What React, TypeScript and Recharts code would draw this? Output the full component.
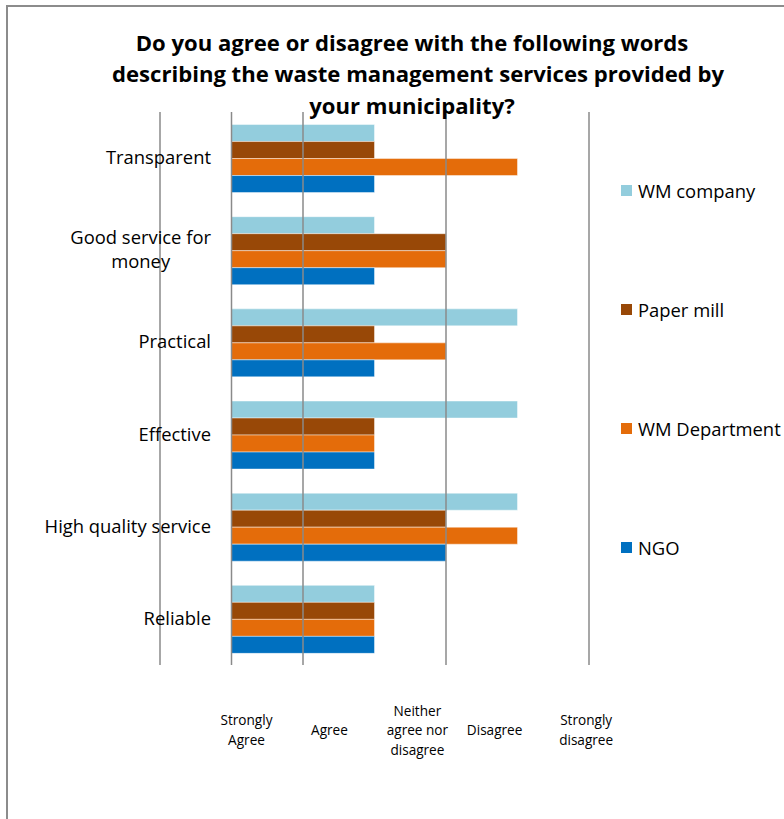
import React from 'react';
import { BarChart, Bar, XAxis, YAxis, ReferenceLine, Legend } from 'recharts';

const categories = ['Transparent', 'Good service for money', 'Practical', 'Effective', 'High quality service', 'Reliable'];
const wmCompany = [2, 2, 4, 4, 4, 2];
const paperMill = [2, 3, 2, 2, 3, 2];
const wmDepartment = [4, 3, 3, 2, 4, 2];
const ngo = [2, 2, 2, 2, 3, 2];

const seriesKeys = ['wmCompany', 'paperMill', 'wmDepartment', 'ngo'];
const seriesNames = ['WM company', 'Paper mill', 'WM Department', 'NGO'];
const seriesColors = ['#93CDDD', '#984807', '#E46C0A', '#0070C0'];

const scaleLabels = ['Strongly Agree', 'Agree', 'Neither agree nor disagree', 'Disagree', 'Strongly disagree'];
const scaleLabelPositions = [0.21, 1.37, 2.6, 3.68, 4.96];
const gridValues = [-1, 0, 1, 3, 5];

const titleLines = [
  'Do you agree or disagree with the following words',
  'describing the waste management services provided by',
  'your municipality?',
];

const data = categories.map((name, i) => ({
  name,
  wmCompany: wmCompany[i],
  paperMill: paperMill[i],
  wmDepartment: wmDepartment[i],
  ngo: ngo[i],
}));

const FONT = '"Open Sans", "DejaVu Sans", sans-serif';
const CAT_SIZE = 18.4;
const SCALE_SIZE = 13.6;

let ctx: CanvasRenderingContext2D | null = null;
function measure(text: string, font: string): number {
  if (!ctx) ctx = document.createElement('canvas').getContext('2d');
  if (!ctx) return text.length * 8;
  ctx.font = font;
  return ctx.measureText(text).width;
}
function wrap(text: string, font: string, max: number): string[] {
  const words = text.split(' ');
  const lines: string[] = [];
  let cur = '';
  for (const w of words) {
    const cand = cur ? cur + ' ' + w : w;
    if (cur && measure(cand, font) > max) {
      lines.push(cur);
      cur = w;
    } else {
      cur = cand;
    }
  }
  if (cur) lines.push(cur);
  return lines;
}

const CategoryTick = (props: any) => {
  const { x, y, payload } = props;
  const font = `${CAT_SIZE}px "Open Sans"`;
  const lines = wrap(String(payload.value), font, 176);
  const widths = lines.map((l) => measure(l, font));
  const blockW = Math.max(...widths);
  const right = x + 51;
  const cx = right - blockW / 2;
  const lh = 24;
  const first = y + 6 - ((lines.length - 1) * lh) / 2;
  return (
    <text textAnchor="middle" fontFamily={FONT} fontSize={CAT_SIZE} fill="#000">
      {lines.map((l, i) => (
        <tspan key={i} x={cx} y={first + i * lh}>
          {l}
        </tspan>
      ))}
    </text>
  );
};

const ScaleTick = (props: any) => {
  const { x, y, index } = props;
  const font = `${SCALE_SIZE}px "Open Sans"`;
  const label = scaleLabels[index] ?? '';
  const lines = wrap(label, font, 66);
  const lh = 19.5;
  const center = y + 66;
  const first = center + 4 - ((lines.length - 1) * lh) / 2;
  return (
    <text textAnchor="middle" fontFamily={FONT} fontSize={SCALE_SIZE} fill="#000">
      {lines.map((l, i) => (
        <tspan key={i} x={x} y={first + i * lh}>
          {l}
        </tspan>
      ))}
    </text>
  );
};

const LegendContent = (props: any) => {
  const payload = [...(props.payload || [])].sort(
    (a: any, b: any) => seriesNames.indexOf(a.value) - seriesNames.indexOf(b.value)
  );
  return (
    <div style={{ display: 'flex', flexDirection: 'column' }}>
      {payload.map((p: any, i: number) => (
        <div key={i} style={{ height: 118.7, display: 'flex', alignItems: 'center' }}>
          <span style={{ width: 11, height: 11, background: p.color, marginRight: 6, flex: 'none' }} />
          <span style={{ fontSize: CAT_SIZE, fontFamily: FONT, color: '#000', whiteSpace: 'nowrap' }}>{p.value}</span>
        </div>
      ))}
    </div>
  );
};

export default function App() {
  return (
    <div
      style={{
        position: 'absolute',
        left: 0,
        top: 0,
        width: 784,
        height: 819,
        overflow: 'hidden',
        background: '#fff',
      }}
    >
      <div
        style={{
          position: 'absolute',
          left: 6,
          top: 5,
          width: 820,
          height: 840,
          borderLeft: '2px solid #8c8c8c',
          borderTop: '2px solid #8c8c8c',
        }}
      />
      <BarChart
        width={784}
        height={819}
        data={data}
        layout="vertical"
        margin={{ top: 112, right: 195, bottom: 94, left: 100 }}
        barCategoryGap="13.6%"
        barGap={0}
      >
        <XAxis
          type="number"
          domain={[-1, 5]}
          ticks={scaleLabelPositions}
          interval={0}
          axisLine={false}
          tickLine={false}
          tickSize={0}
          tickMargin={0}
          height={60}
          tick={<ScaleTick />}
          allowDataOverflow
        />
        <YAxis
          type="category"
          dataKey="name"
          width={60}
          axisLine={false}
          tickLine={false}
          tickSize={0}
          tickMargin={0}
          interval={0}
          tick={<CategoryTick />}
        />
        {gridValues.map((v) => (
          <ReferenceLine key={v} x={v} stroke="#8a8a8a" strokeWidth={1.5} ifOverflow="visible" />
        ))}
        {seriesKeys.map((k, i) => (
          <Bar
            key={k}
            dataKey={k}
            name={seriesNames[i]}
            fill={seriesColors[i]}
            stroke="rgba(255,255,255,0.45)"
            strokeWidth={1}
            isAnimationActive={false}
          />
        ))}
        <Legend
          layout="horizontal"
          align="center"
          verticalAlign="middle"
          content={<LegendContent />}
          wrapperStyle={{ left: 621, top: 131.6, width: 200, height: 'auto' }}
        />
      </BarChart>
      <div
        style={{
          position: 'absolute',
          left: 112,
          top: 26.7,
          width: 600,
          textAlign: 'center',
          fontFamily: FONT,
          fontWeight: 700,
          fontSize: 22.1,
          lineHeight: '31.5px',
          color: '#000',
          whiteSpace: 'nowrap',
        }}
      >
        {titleLines.map((l, i) => (
          <div key={i}>{l}</div>
        ))}
      </div>
    </div>
  );
}
